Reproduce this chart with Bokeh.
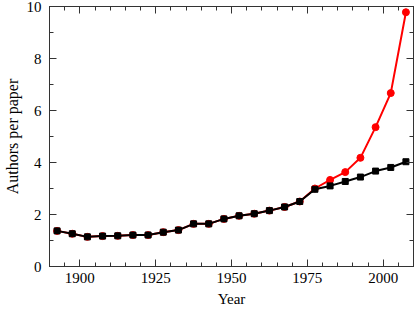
from bokeh.plotting import figure
from bokeh.models import (LinearAxis, SingleIntervalTicker, Range1d, GlobalInlineStyleSheet,
                          CustomLabelingPolicy)
from bokeh.embed import file_html
from bokeh.resources import INLINE

years = [1892.5, 1897.5, 1902.5, 1907.5, 1912.5, 1917.5, 1922.5, 1927.5,
         1932.5, 1937.5, 1942.5, 1947.5, 1952.5, 1957.5, 1962.5, 1967.5,
         1972.5, 1977.5, 1982.5, 1987.5, 1992.5, 1997.5, 2002.5, 2007.5]
black_vals = [1.37, 1.26, 1.14, 1.17, 1.18, 1.21, 1.21, 1.32,
              1.40, 1.64, 1.64, 1.83, 1.95, 2.03, 2.15, 2.29,
              2.50, 2.97, 3.10, 3.27, 3.44, 3.67, 3.81, 4.03]
red_vals = [1.37, 1.26, 1.14, 1.17, 1.18, 1.21, 1.21, 1.32,
            1.40, 1.64, 1.64, 1.83, 1.95, 2.03, 2.15, 2.29,
            2.50, 3.00, 3.33, 3.63, 4.18, 5.36, 6.67, 9.78]

FONT = "Liberation Serif"
AX = "#333333"

p = figure(width=415, height=309, output_backend="svg", toolbar_location=None,
           x_range=Range1d(1890, 2010), y_range=Range1d(0, 10),
           min_border_left=45, min_border_right=2, min_border_top=6, min_border_bottom=43,
           x_axis_label="Year", y_axis_label="Authors per paper")
p.stylesheets = [GlobalInlineStyleSheet(css="html, body { margin: 0 !important; padding: 0; }")]
p.grid.visible = False
p.outline_line_color = AX
p.background_fill_color = "white"
p.border_fill_color = "white"

xt = SingleIntervalTicker(interval=25, num_minor_ticks=5)
yt = SingleIntervalTicker(interval=2, num_minor_ticks=2)

def style(ax, labels=True):
    ax.axis_line_color = AX
    ax.major_tick_line_color = AX
    ax.minor_tick_line_color = AX
    ax.major_tick_in = 7
    ax.major_tick_out = 0
    ax.minor_tick_in = 4
    ax.minor_tick_out = 0
    ax.major_label_text_font = FONT
    ax.major_label_text_color = "black"
    if labels:
        ax.major_label_text_font_size = "15px"
        ax.axis_label_text_font = FONT
        ax.axis_label_text_font_style = "normal"
        ax.axis_label_text_color = "black"
    else:
        ax.major_label_text_font_size = "0px"
        ax.major_label_policy = CustomLabelingPolicy(code="return new Set()")
        ax.major_label_standoff = 0

p.xaxis.ticker = xt
p.yaxis.ticker = yt
style(p.xaxis[0])
style(p.yaxis[0])
p.xaxis.axis_label_text_font_size = "15px"
p.yaxis.axis_label_text_font_size = "16px"
p.xaxis.major_label_standoff = 6
p.xaxis.axis_label_standoff = 5
p.yaxis.major_label_standoff = 8
p.yaxis.axis_label_standoff = 3

top = LinearAxis(ticker=xt)
right = LinearAxis(ticker=yt)
style(top, labels=False)
style(right, labels=False)
p.add_layout(top, "above")
p.add_layout(right, "right")

p.line(years, red_vals, line_color="#ff0000", line_width=2)
p.scatter(years, red_vals, marker="circle", size=7, fill_color="#ff0000", line_color="#ff0000")
p.line(years, black_vals, line_color="black", line_width=2)
p.scatter(years, black_vals, marker="square", size=6, fill_color="black", line_color="black")

open("out.html", "w").write(file_html(p, INLINE))
